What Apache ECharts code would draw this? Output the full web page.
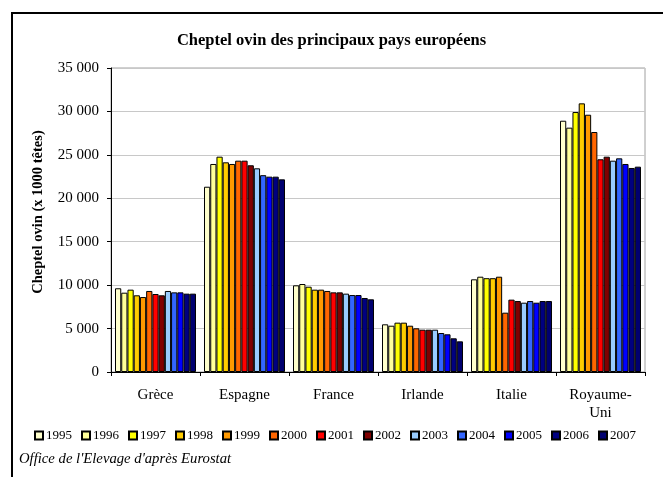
<!DOCTYPE html>
<html>
<head>
<meta charset="utf-8">
<script src="https://cdn.jsdelivr.net/npm/echarts@6/dist/echarts.min.js"></script>
<style>
  html, body { margin: 0; padding: 0; background: #fff; }
  #chart { width: 663px; height: 477px; }
</style>
</head>
<body>
<div id="chart"></div>
<script>
const countries = ['Grèce', 'Espagne', 'France', 'Irlande', 'Italie', 'Royaume-\nUni']
const years = ['1995', '1996', '1997', '1998', '1999', '2000', '2001', '2002', '2003', '2004', '2005', '2006', '2007']
const yearColors = ['#FFFFCC', '#FFFF99', '#FFFF00', '#FFCC00', '#FF9900', '#FF6600', '#FF0000', '#800000',
  '#99CCFF', '#3366FF', '#0000FF', '#000080', '#000070']

// cheptel (x 1000 têtes), one array per country, 1995 -> 2007
const grece = [9640, 9130, 9480, 8830, 8630, 9330, 8980, 8830, 9330, 9170, 9170, 9020, 9020]
const espagne = [21330, 23950, 24790, 24140, 23950, 24330, 24330, 23800, 23450, 22660, 22490, 22490, 22180]
const france = [9980, 10130, 9820, 9480, 9480, 9330, 9170, 9170, 9020, 8860, 8860, 8520, 8370]
const irlande = [5490, 5330, 5680, 5680, 5330, 5030, 4870, 4870, 4870, 4490, 4340, 3880, 3530]
const italie = [10670, 10970, 10800, 10800, 10970, 6830, 8330, 8170, 7980, 8170, 7980, 8170, 8170]
const royaumeUni = [28930, 28130, 29930, 30930, 29620, 27630, 24490, 24790, 24330, 24600, 23950, 23490, 23640]

const byCountry = [grece, espagne, france, irlande, italie, royaumeUni]
const yTicks = [0, 5000, 10000, 15000, 20000, 25000, 30000, 35000]

const font = '"Liberation Serif", "Times New Roman", serif'
const chart = echarts.init(document.getElementById('chart'), null, { renderer: 'canvas' })

chart.setOption({
  backgroundColor: '#ffffff',
  animation: false,
  textStyle: { fontFamily: font, color: '#000' },
  title: {
    text: 'Cheptel ovin des principaux pays européens',
    left: 'center',
    top: 27,
    textStyle: { fontFamily: font, fontSize: 16.5, fontWeight: 'bold', color: '#000' },
  },
  graphic: [
    {
      type: 'rect',
      shape: { x: 12, y: 13, width: 700, height: 500 },
      style: { fill: 'none', stroke: '#000', lineWidth: 2 },
      silent: true,
    },
    {
      type: 'text',
      x: 38,
      y: 212,
      rotation: Math.PI / 2,
      style: {
        text: 'Cheptel ovin (x 1000 têtes)',
        font: 'bold 14.5px ' + font,
        fill: '#000',
        align: 'center',
        verticalAlign: 'middle',
      },
    },
    {
      type: 'text',
      left: 19,
      top: 452,
      style: { text: "Office de l'Elevage d'après Eurostat", font: 'italic 14.7px ' + font, fill: '#000' },
    },
  ],
  legend: {
    data: years,
    left: 29,
    top: 424,
    itemWidth: 8,
    itemHeight: 8,
    itemGap: 9,
    icon: 'rect',
    textStyle: { fontFamily: font, fontSize: 13, color: '#000', padding: [0, 0, 0, -2] },
  },
  grid: { left: 111, right: 18, top: 68, bottom: 105, show: true, borderColor: '#a0a0a0', borderWidth: 1 },
  xAxis: {
    type: 'category',
    data: countries,
    axisLine: { lineStyle: { color: '#000', width: 1 } },
    axisTick: { show: true, length: 4, interval: 0, lineStyle: { color: '#000' } },
    axisLabel: { color: '#000', fontFamily: font, fontSize: 15, margin: 14, interval: 0, lineHeight: 18 },
  },
  yAxis: {
    type: 'value',
    min: yTicks[0],
    max: yTicks[yTicks.length - 1],
    interval: 5000,
    axisLine: { show: true, lineStyle: { color: '#000', width: 1 } },
    axisTick: { show: true, length: 4, lineStyle: { color: '#000' } },
    axisLabel: {
      color: '#000',
      fontFamily: font,
      fontSize: 15,
      margin: 12,
      formatter: v => v === 0 ? '0' : String(v).replace(/(\d)(?=(\d{3})$)/, '$1 '),
    },
    splitLine: { lineStyle: { color: '#c8c8c8', width: 1 } },
  },
  series: years.map((y, i) => ({
    name: y,
    type: 'bar',
    data: byCountry.map(c => c[i]),
    barGap: '0%',
    barCategoryGap: '9%',
    itemStyle: { color: yearColors[i], borderColor: '#000', borderWidth: 1 },
  })),
})
</script>
</body>
</html>
